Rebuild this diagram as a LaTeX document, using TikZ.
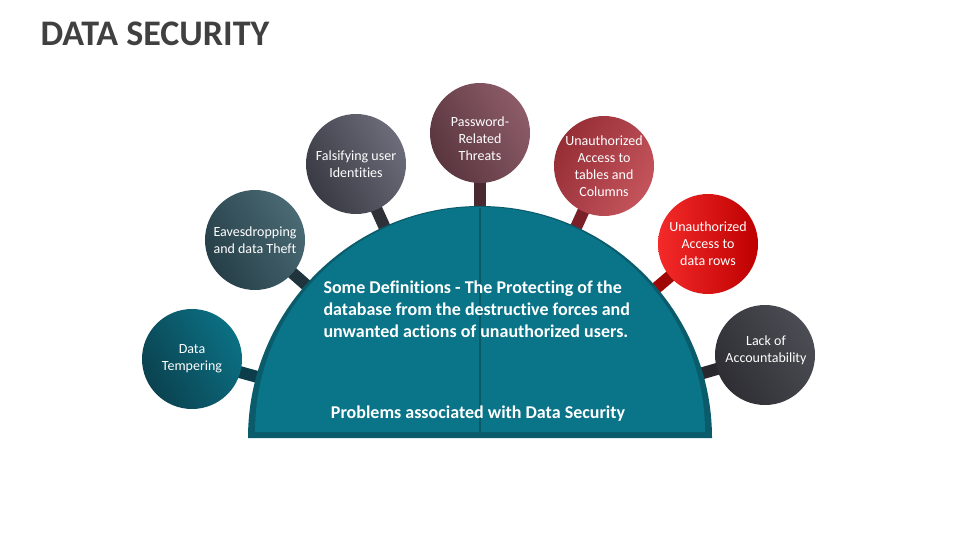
\documentclass[tikz,border=0pt]{standalone}
\usepackage{fontspec}
\setmainfont{Carlito}[Ligatures=NoCommon]
\usetikzlibrary{calc}
\pgfdeclarelayer{bg}
\pgfsetlayers{bg,main}
\definecolor{titlegray}{HTML}{404040}
\definecolor{tealdark}{HTML}{0A5C6B}
\definecolor{teallight}{HTML}{0A7488}
\definecolor{tealline}{HTML}{095866}
\definecolor{aA}{HTML}{0B4250}\definecolor{aB}{HTML}{0B7083}\definecolor{aS}{HTML}{0B3E4A}
\definecolor{bA}{HTML}{263F48}\definecolor{bB}{HTML}{4A6A74}\definecolor{bS}{HTML}{1F343C}
\definecolor{cA}{HTML}{3A3A44}\definecolor{cB}{HTML}{6C6C7A}\definecolor{cS}{HTML}{303038}
\definecolor{dA}{HTML}{5A363E}\definecolor{dB}{HTML}{8C5C68}\definecolor{dS}{HTML}{4A2A30}
\definecolor{eA}{HTML}{962E36}\definecolor{eB}{HTML}{C4545C}\definecolor{eS}{HTML}{7A2028}
\definecolor{fA}{HTML}{F42A2A}\definecolor{fB}{HTML}{BE0000}\definecolor{fS}{HTML}{A00808}
\definecolor{gA}{HTML}{2E2E34}\definecolor{gB}{HTML}{4C4C54}\definecolor{gS}{HTML}{28282E}
\begin{document}
\begin{tikzpicture}[x=1pt,y=-1pt,
  bubble/.style={circle, minimum size=100pt, inner sep=0pt, align=center, text=white,
    font=\fontsize{14}{17}\selectfont},
  btext/.style={align=center, text=white, inner sep=0pt, font=\fontsize{14}{17}\selectfont},
  stem/.style={line width=12pt},
  maintext/.style={text=white, font=\bfseries\fontsize{18}{22}\selectfont}]
\useasboundingbox (0,0) rectangle (960,540);
\node[anchor=west, text=titlegray, font=\bfseries\fontsize{36}{40}\selectfont] (title) at (37,34) {DATA SECURITY};

\coordinate (C) at (480,438);
% semicircle
\fill[tealdark] (248,438) arc[start angle=180, end angle=360, radius=232] -- cycle;
\fill[teallight] (255,432) arc[start angle=180, end angle=360, radius=225] -- cycle;
\draw[tealline, line width=2.5pt] (480,208) -- (480,432);
\node[anchor=west, align=left, maintext] (def) at (320,309) {Some Definitions - The Protecting of the\\database from the destructive forces and\\unwanted actions of unauthorized users.};
\node[maintext] (prob) at (478,414) {Problems associated with Data Security};

% bubbles
\node[bubble, left color=aA, right color=aB, shading angle=120] (b1) at (192,359) {Data\\Tempering};
\node[bubble, left color=bA, right color=bB, shading angle=120] (b2) at (255,240) {Eavesdropping\\and data Theft};
\node[bubble, left color=cA, right color=cB, shading angle=120] (b3) at (356,164) {Falsifying user\\Identities};
\node[bubble, left color=dA, right color=dB, shading angle=120] (b4) at (480,133) {};
\node[btext] (b4t) at (480,139) {Password-\\Related\\Threats};
\node[bubble, left color=eA, right color=eB, shading angle=60] (b5) at (604,166) {Unauthorized\\Access to\\tables and\\Columns};
\node[bubble, left color=fA, right color=fB, shading angle=90] (b6) at (708,244) {Unauthorized\\Access to\\data rows};
\node[bubble, left color=gA, right color=gB, shading angle=120] (b7) at (765,355) {};
\node[btext] (b7t) at (766,350) {Lack of\\Accountability};

\begin{pgfonlayer}{bg}
\foreach \b/\s in {b1/aS, b2/bS, b3/cS, b4/dS, b5/eS, b6/fS, b7/gS}{
  \draw[stem, \s] (\b.center) -- ($(\b.center)!75pt!(C)$);
}
\end{pgfonlayer}
\end{tikzpicture}
\end{document}
